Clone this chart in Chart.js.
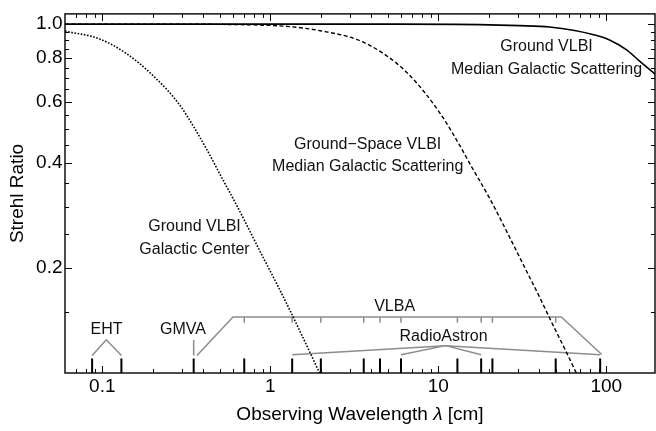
<!DOCTYPE html>
<html>
<head>
<meta charset="utf-8">
<script src="https://cdn.jsdelivr.net/npm/chart.js@4/dist/chart.umd.min.js"></script>
<style>
  html, body { margin: 0; padding: 0; background: #fff; }
  canvas { display: block; }
</style>
</head>
<body>
<canvas id="c" width="656" height="431"></canvas>
<script>
// Strehl ratio versus observing wavelength (cm) for three scattering cases
const groundMedianLambda = [0.06, 5.88, 17.6, 30.5, 46.0, 64.8, 82.9, 104.6, 131.5, 157.8, 193.9, 207.6];
const groundMedianStrehl = [1.0, 1.0, 0.997, 0.990, 0.981, 0.959, 0.934, 0.901, 0.845, 0.784, 0.721, 0.700];

const spaceMedianLambda = [0.06, 0.191, 0.753, 1.303, 2.02, 3.264, 4.726, 6.749, 10.18, 13.39, 15.79, 20.20, 26.58, 32.64, 40.09, 47.90, 57.24, 66.3, 69.4];
const spaceMedianStrehl = [1.0, 1.0, 0.9955, 0.984, 0.956, 0.904, 0.823, 0.714, 0.558, 0.450, 0.390, 0.317, 0.245, 0.201, 0.165, 0.138, 0.116, 0.100, 0.0954];

const galCenterLambda = [0.06, 0.0964, 0.1395, 0.1993, 0.2884, 0.4176, 0.4991, 0.6299, 0.753, 0.900, 1.075, 1.303, 1.557, 1.761, 1.966, 2.0];
const galCenterStrehl = [0.955, 0.907, 0.823, 0.714, 0.587, 0.4385, 0.373, 0.303, 0.256, 0.216, 0.183, 0.152, 0.127, 0.112, 0.100, 0.0985];

// Observing bands (cm) of each array
const ehtBands = [0.087, 0.13];
const gmvaBands = [0.35];
const vlbaBands = [0.7, 1.35, 2, 3.6, 4.5, 6, 13, 18, 21, 50];
const radioAstronBands = [1.35, 6, 18, 92];

// Axis tick values
const xTickLabels = [0.1, 1, 10, 100];
const xMinorTicks = [0.07, 0.08, 0.09, 0.2, 0.3, 0.4, 0.5, 0.6, 0.7, 0.8, 0.9,
                     2, 3, 4, 5, 6, 7, 8, 9, 20, 30, 40, 50, 60, 70, 80, 90];
const yTickLabels = [0.2, 0.4, 0.6, 0.8, 1.0];
const yMinorTicks = [0.15, 0.25, 0.3, 0.35, 0.45, 0.5, 0.55, 0.65, 0.7, 0.75, 0.85, 0.9, 0.95];

// Layout of the band brackets along the bottom of the plot (data units)
const markTop = 0.110;
const bracketFoot = 0.1122;
const bracketTop = 0.1245;
const ehtApexLambda = 0.1056;
const vlbaShape = { start: 0.366, rise: 0.6, fall: 54, end: 94, bar: 0.1448, foot: 0.113, tick: 0.1393 };
const raApex = { x: 11.05, y: 0.1198 };
const raFoot = 0.1128;

// Text placed on the plot (data units)
const plotTexts = [
  { text: 'Ground VLBI', x: 44.1, y: 0.862 },
  { text: 'Median Galactic Scattering', x: 44.1, y: 0.742 },
  { text: 'Ground\u2212Space VLBI', x: 3.8, y: 0.452 },
  { text: 'Median Galactic Scattering', x: 3.8, y: 0.390 },
  { text: 'Ground VLBI', x: 0.354, y: 0.262 },
  { text: 'Galactic Center', x: 0.354, y: 0.2255 },
  { text: 'EHT', x: 0.106, y: 0.1328 },
  { text: 'GMVA', x: 0.302, y: 0.1328 },
  { text: 'VLBA', x: 5.5, y: 0.1553 },
  { text: 'RadioAstron', x: 10.75, y: 0.1270 }
];

const FONT = "'Liberation Sans', Arial, Helvetica, sans-serif";
const GRAY = '#8c8c8c';

const pts = (xs, ys) => xs.map((v, i) => ({ x: v, y: ys[i] }));
const gap = v => ({ x: v, y: null });

function verticalMarks(vals, y0, y1) {
  const out = [];
  vals.forEach(v => out.push({ x: v, y: y0 }, { x: v, y: y1 }, gap(v)));
  return out;
}

const allBands = [...new Set([...ehtBands, ...gmvaBands, ...vlbaBands, ...radioAstronBands])].sort((a, b) => a - b);

const ehtBracket = [
  { x: ehtBands[0], y: bracketFoot }, { x: ehtApexLambda, y: bracketTop }, { x: ehtBands[1], y: bracketFoot }
];
const gmvaBracket = verticalMarks(gmvaBands, bracketFoot, bracketTop);
const vlbaBracket = [
  { x: vlbaShape.start, y: bracketFoot }, { x: vlbaShape.rise, y: vlbaShape.bar },
  { x: vlbaShape.fall, y: vlbaShape.bar }, { x: vlbaShape.end, y: vlbaShape.foot }, gap(vlbaShape.end),
  ...verticalMarks(vlbaBands, vlbaShape.bar, vlbaShape.tick)
];
const raBracket = [];
radioAstronBands.forEach(v => raBracket.push({ x: v, y: raFoot }, { x: raApex.x, y: raApex.y }, gap(v)));

const curve = (data, dash, width) => ({
  data, showLine: true, pointRadius: 0, borderColor: '#000', borderWidth: width,
  borderDash: dash, cubicInterpolationMode: 'monotone', order: 0
});
const seg = (data, color, width) => ({
  data, showLine: true, pointRadius: 0, borderColor: color, borderWidth: width,
  spanGaps: false, tension: 0, order: 1
});

// Inward tick marks on all four sides, frame, texts and x-axis title
const framePlugin = {
  id: 'framePlugin',
  afterDraw(chart) {
    const { ctx, chartArea: a, scales: { x, y } } = chart;
    ctx.save();
    ctx.strokeStyle = '#000';
    ctx.lineWidth = 1;
    const xt = (vals, len) => vals.forEach(v => {
      const p = Math.round(x.getPixelForValue(v)) + 0.5;
      if (p < a.left || p > a.right) return;
      ctx.beginPath();
      ctx.moveTo(p, a.bottom); ctx.lineTo(p, a.bottom - len);
      ctx.moveTo(p, a.top); ctx.lineTo(p, a.top + len);
      ctx.stroke();
    });
    const yt = (vals, len) => vals.forEach(v => {
      const p = Math.round(y.getPixelForValue(v)) + 0.5;
      if (p < a.top || p > a.bottom) return;
      ctx.beginPath();
      ctx.moveTo(a.left, p); ctx.lineTo(a.left + len, p);
      ctx.moveTo(a.right, p); ctx.lineTo(a.right - len, p);
      ctx.stroke();
    });
    xt(xTickLabels, 7); xt(xMinorTicks, 4);
    yt(yTickLabels, 7); yt(yMinorTicks, 4);
    ctx.lineWidth = 1.4;
    ctx.strokeRect(a.left, a.top, a.right - a.left, a.bottom - a.top);

    ctx.fillStyle = '#111';
    ctx.textAlign = 'center';
    ctx.textBaseline = 'middle';
    ctx.font = `16px ${FONT}`;
    plotTexts.forEach(t => ctx.fillText(t.text, x.getPixelForValue(t.x), y.getPixelForValue(t.y)));

    // x-axis title with italic lambda
    const parts = [['Observing Wavelength ', ''], ['\u03bb', 'italic '], [' [cm]', '']];
    let total = 0;
    parts.forEach(p => { ctx.font = `${p[1]}19px ${FONT}`; total += ctx.measureText(p[0]).width; });
    let cx = (a.left + a.right) / 2 - total / 2;
    ctx.textAlign = 'left';
    ctx.fillStyle = '#000';
    parts.forEach(p => {
      ctx.font = `${p[1]}19px ${FONT}`;
      ctx.fillText(p[0], cx, 415);
      cx += ctx.measureText(p[0]).width;
    });
    ctx.restore();
  }
};

new Chart(document.getElementById('c'), {
  type: 'scatter',
  data: {
    datasets: [
      curve(pts(groundMedianLambda, groundMedianStrehl), [], 1.6),
      curve(pts(spaceMedianLambda, spaceMedianStrehl), [4, 2.5], 1.4),
      curve(pts(galCenterLambda, galCenterStrehl), [1.6, 1.6], 1.6),
      seg(ehtBracket, GRAY, 1.5),
      seg(gmvaBracket, GRAY, 1.5),
      seg(vlbaBracket, GRAY, 1.5),
      seg(raBracket, GRAY, 1.5),
      seg(verticalMarks(allBands, 0.1, markTop), '#000', 2)
    ]
  },
  options: {
    responsive: false,
    animation: false,
    devicePixelRatio: 1,
    layout: { padding: { left: 0, right: 1, top: 7, bottom: 0 } },
    plugins: { legend: { display: false }, tooltip: { enabled: false } },
    scales: {
      x: {
        type: 'logarithmic', min: 0.06, max: 195,
        grid: { display: false, drawTicks: false },
        border: { display: false },
        afterBuildTicks: s => { s.ticks = xTickLabels.map(v => ({ value: v })); },
        afterFit: s => { s.height = 58; },
        ticks: {
          autoSkip: false, maxRotation: 0, padding: 2.5, color: '#000',
          font: { family: FONT, size: 19 },
          callback: v => String(v)
        }
      },
      y: {
        type: 'logarithmic', min: 0.1, max: 1.07,
        grid: { display: false, drawTicks: false },
        border: { display: false },
        afterBuildTicks: s => { s.ticks = yTickLabels.map(v => ({ value: v })); },
        afterFit: s => { s.width = 65; },
        title: {
          display: true, text: 'Strehl Ratio', color: '#000',
          font: { family: FONT, size: 19 }, padding: { top: 6.6, bottom: 0 }
        },
        ticks: {
          autoSkip: false, padding: 2.5, color: '#000',
          font: { family: FONT, size: 19 },
          callback: v => Number(v).toFixed(1)
        }
      }
    }
  },
  plugins: [framePlugin]
});
</script>
</body>
</html>
